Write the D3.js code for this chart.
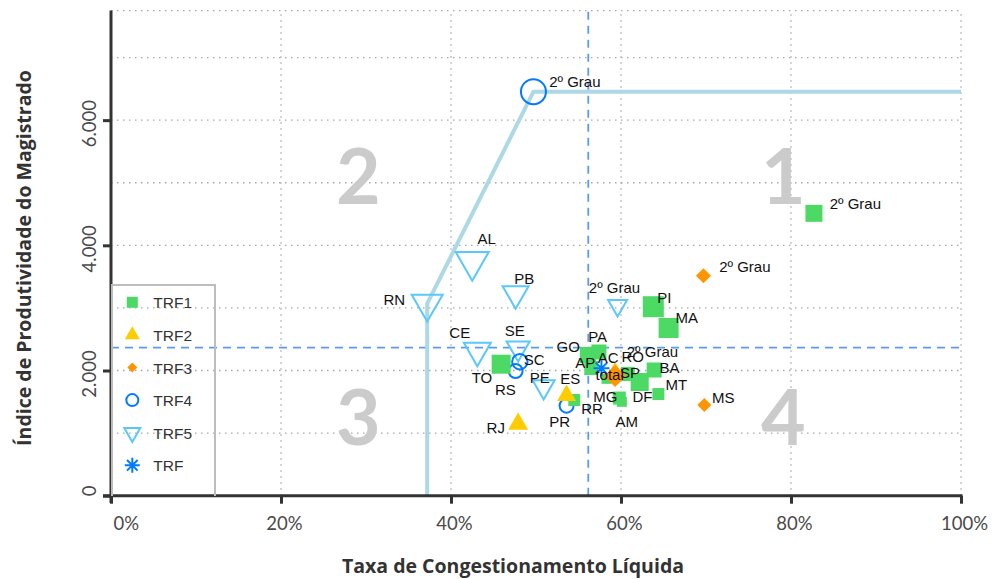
<!DOCTYPE html>
<html><head><meta charset="utf-8">
<script src="https://cdn.jsdelivr.net/npm/d3@7"></script>
<style>body{margin:0;background:#fff}svg{display:block}</style>
</head><body>
<svg id="c" width="992" height="579"></svg>
<script>
// ---- data (Taxa de Congestionamento Líquida %, IPM, marker weight) ----
const trf1Labels = ["2º Grau","PI","MA","GO","PA","AP","AC","RO","BA","DF","MT","MG","AM","RR","TO"];
const trf1X      = [82.7,63.8,65.6,56.1,57.4,56.5,58.3,60.8,63.9,62.2,64.4,59.8,60.1,54.5,45.9];
const trf1Y      = [4511,3019,2679,2248,2296,2040,1867,1944,2008,1816,1624,1560,1500,1529,2101];
const trf1W      = [85,105,100,80,75,70,50,70,75,90,60,65,50,60,95];

const trf2Labels = ["RJ","ES","2º Grau"];
const trf2X      = [47.9,53.6,59.3];
const trf2Y      = [1145,1601,2008];
const trf2W      = [100,95,70];

const trf3Labels = ["2º Grau","MS","SP"];
const trf3X      = [69.7,69.8,59.3];
const trf3Y      = [3514,1449,1912];
const trf3W      = [75,70,110];

const trf4Labels = ["2º Grau","SC","RS","PR"];
const trf4X      = [49.7,48.1,47.6,53.6];
const trf4Y      = [6454,2141,1992,1438];
const trf4W      = [125,77,70,70];

const trf5Labels = ["AL","PB","RN","CE","SE","PE","2º Grau"];
const trf5X      = [42.5,47.6,37.2,43.1,47.9,50.9,59.6];
const trf5Y      = [3740,3228,3067,2318,2356,1741,3037];
const trf5W      = [165,130,155,135,115,110,95];

const trfLabels = ["total"];
const trfX      = [57.7];
const trfY      = [2035];

const meanX = 56.15;   // vertical reference (dashed)
const meanY = 2367;    // horizontal reference (dashed)

const xTicks = [0,20,40,60,80,100];
const yTicks = [0,2000,4000,6000];
const yGrid  = [1000,2000,3000,4000,5000,6000,7000,7750];
const quadrants = [["1",79.1,4660],["2",29.1,4660],["3",29.1,810],["4",79.1,810]];
const legendNames = ["TRF1","TRF2","TRF3","TRF4","TRF5","TRF"];

// ---- layout / style ----
const COL = {TRF1:"#4cd964",TRF2:"#ffcc00",TRF3:"#ff9500",TRF4:"#007aff",TRF5:"#5ac8fa",TRF:"#007aff"};
const SHAPE = {TRF1:"square",TRF2:"triUp",TRF3:"diamond",TRF4:"circle",TRF5:"triDown",TRF:"star"};
// label offsets (px) relative to marker centre: [dx, dy, anchor]
const LAB = {
 "TRF1|2º Grau":[15.7,-4],"TRF1|PI":[4,-3.4],"TRF1|MA":[7,-4.7],"TRF1|GO":[-31.3,-2.7],
 "TRF1|PA":[-10.7,-10.3],"TRF1|AP":[-16,0.3],"TRF1|AC":[-8.7,-15.7],"TRF1|RO":[-6.3,-12.3],
 "TRF1|BA":[5.3,3.3],"TRF1|DF":[-7.3,19.7],"TRF1|MT":[7,-4],"TRF1|MG":[-26,3.5],
 "TRF1|AM":[-6.3,25.5],"TRF1|RR":[7,13.7],"TRF1|TO":[-29.5,19.1],
 "TRF2|RJ":[-31.6,9.3],"TRF2|ES":[-6.3,-11.5],"TRF2|2º Grau":[11.7,-13.3],
 "TRF3|2º Grau":[15.7,-4],"TRF3|MS":[7.7,-2],"TRF3|SP":[5,2.3],
 "TRF4|2º Grau":[15.7,-4.4],"TRF4|SC":[4,3.3],"TRF4|RS":[-20.7,24],"TRF4|PR":[-17.4,21.6],
 "TRF5|AL":[5.3,-17.3],"TRF5|PB":[-1.3,-9.3],"TRF5|RN":[-22,1.3,"end"],"TRF5|CE":[-28,-12.3],
 "TRF5|SE":[-13.3,-12.2],"TRF5|PE":[-14,-3.4],"TRF5|2º Grau":[-28.8,-12.3],
 "TRF|total":[-6,11.7]
};

const svg = d3.select("#c");
const x = d3.scaleLinear().domain([0,100]).range([111,961]);
const y = d3.scaleLinear().domain([0,7750]).range([495.7,10.6]);
const wpx = d3.scaleLinear().domain([0,100]).range([0,20]);

function pathFor(shape, d){
  const h = d*Math.sqrt(3)/2;
  switch(shape){
    case "square": return `M${-d/2},${-d/2}h${d}v${d}h${-d}Z`;
    case "triUp": return `M0,${-2*h/3}L${d/2},${h/3}L${-d/2},${h/3}Z`;
    case "triDown": return `M0,${2*h/3}L${d/2},${-h/3}L${-d/2},${-h/3}Z`;
    case "diamond": return `M0,${-d/2}L${d/2},0L0,${d/2}L${-d/2},0Z`;
    case "circle": return `M${d/2},0A${d/2},${d/2},0,1,1,${-d/2},0A${d/2},${d/2},0,1,1,${d/2},0Z`;
    case "star": { const r=d/2, s=r*Math.SQRT1_2;
      return `M${-r},0H${r}M0,${-r}V${r}M${-s},${-s}L${s},${s}M${-s},${s}L${s},${-s}`; }
  }
}
function styleMarker(sel, name){
  const sh = SHAPE[name];
  if (sh==="square"||sh==="triUp"||sh==="diamond") sel.attr("fill",COL[name]).attr("stroke","none");
  else sel.attr("fill","none").attr("stroke",COL[name]).attr("stroke-width",2);
}

// gridlines
const grid = svg.append("g").attr("stroke","#a8a8a8").attr("stroke-width",1.3).attr("stroke-dasharray","1.5,4.5");
grid.selectAll(".gh").data(yGrid).join("line").attr("x1",x(0)).attr("x2",x(100)).attr("y1",d=>y(d)).attr("y2",d=>y(d));
grid.selectAll(".gv").data(xTicks.slice(1)).join("line").attr("x1",d=>x(d)).attr("x2",d=>x(d)).attr("y1",y(0)).attr("y2",y(7750));

// quadrant numbers
svg.append("g").selectAll("text").data(quadrants).join("text")
  .attr("x",d=>x(d[1])).attr("y",d=>y(d[2])).attr("text-anchor","middle")
  .attr("font-family","Lato, 'Open Sans', sans-serif").attr("font-weight",700).attr("font-size",77)
  .attr("fill","#cbcbcb").text(d=>d[0]);

// dashed reference lines
const dash = svg.append("g").attr("stroke","#5a9af5").attr("stroke-width",1.8).attr("stroke-dasharray","8,6");
dash.append("line").attr("x1",x(meanX)).attr("x2",x(meanX)).attr("y1",y(0)).attr("y2",y(7750));
dash.append("line").attr("x1",x(0)).attr("x2",x(100)).attr("y1",y(meanY)).attr("y2",y(meanY));

// frontier line (RN -> TRF4 2º Grau -> right edge)
const rnI = trf5Labels.indexOf("RN"), g4 = trf4Labels.indexOf("2º Grau");
const frontier = [[trf5X[rnI],0],[trf5X[rnI],trf5Y[rnI]],[trf4X[g4],trf4Y[g4]],[100,trf4Y[g4]]];
svg.append("path").attr("d",d3.line().x(d=>x(d[0])).y(d=>y(d[1]))(frontier))
  .attr("fill","none").attr("stroke","#add8e6").attr("stroke-width",4).attr("stroke-linejoin","round");

// axes
const xAxis = svg.append("g").attr("transform",`translate(0,${y(0)})`)
  .call(d3.axisBottom(x).tickValues(xTicks).tickSize(8).tickPadding(13).tickFormat(d=>d+"%"));
const yAxis = svg.append("g").attr("transform",`translate(${x(0)},0)`)
  .call(d3.axisLeft(y).tickValues(yTicks).tickSize(8).tickFormat(d=>d3.format(",")(d).replace(/,/g,".")));
[xAxis,yAxis].forEach(a=>{
  a.select(".domain").remove();
  a.selectAll(".tick line").attr("stroke","#333").attr("stroke-width",3);
  a.selectAll(".tick text").attr("font-family","Lato, 'Open Sans', sans-serif").attr("font-weight",400)
   .attr("font-size",18.5).attr("fill","#4a4a4a");
});
xAxis.selectAll(".tick text").attr("dx",3);
xAxis.selectAll(".tick text").filter(d=>d===0).attr("text-anchor","start").attr("dx",2);
yAxis.selectAll(".tick text").attr("transform","rotate(-90)").attr("x",0).attr("y",-15)
  .attr("dx",-3).attr("dy",0).attr("text-anchor","middle");
yAxis.selectAll(".tick text").filter(d=>d===0).attr("text-anchor","start").attr("dx",0);
svg.append("line").attr("x1",103).attr("x2",962.5).attr("y1",y(0)).attr("y2",y(0)).attr("stroke","#333").attr("stroke-width",3);
svg.append("line").attr("x1",x(0)).attr("x2",x(0)).attr("y1",y(7750)).attr("y2",503).attr("stroke","#333").attr("stroke-width",3);

// axis titles
svg.append("text").attr("x",513).attr("y",573).attr("text-anchor","middle")
  .attr("font-family","'Open Sans', Lato, sans-serif").attr("font-weight",700).attr("font-size",19.5).attr("fill","#333")
  .text("Taxa de Congestionamento Líquida");
svg.append("text").attr("transform","translate(31,258) rotate(-90)").attr("text-anchor","middle")
  .attr("font-family","'Open Sans', Lato, sans-serif").attr("font-weight",700).attr("font-size",19.5).attr("fill","#333")
  .text("Índice de Produtividade do Magistrado");

// legend
const lg = svg.append("g");
lg.append("path").attr("d",`M112,496V285H215V496`).attr("fill","none").attr("stroke","#bdbdbd").attr("stroke-width",2);
const lgSize = {TRF1:11,TRF2:15,TRF3:10,TRF4:12,TRF5:16,TRF:15};
legendNames.forEach((n,i)=>{
  const cy = 302.3 + i*32.6;
  const m = lg.append("path").attr("transform",`translate(132.3,${cy})`).attr("d",pathFor(SHAPE[n],lgSize[n]));
  styleMarker(m,n);
  lg.append("text").attr("x",153.3).attr("y",cy+6).attr("font-family","'Liberation Sans', Arial, sans-serif")
    .attr("font-size",15.5).attr("fill","#333").text(n);
});

// points
const series = [
  ["TRF5",trf5Labels,trf5X,trf5Y,trf5W],
  ["TRF4",trf4Labels,trf4X,trf4Y,trf4W],
  ["TRF1",trf1Labels,trf1X,trf1Y,trf1W],
  ["TRF2",trf2Labels,trf2X,trf2Y,trf2W],
  ["TRF3",trf3Labels,trf3X,trf3Y,trf3W],
  ["TRF",trfLabels,trfX,trfY,[80]]
];
const pts = svg.append("g"), labs = svg.append("g");
series.forEach(([name,L,X,Y,W])=>{
  const data = L.map((l,i)=>({name,l,x:X[i],y:Y[i],w:W[i]}));
  const m = pts.selectAll(null).data(data).join("path")
    .attr("transform",d=>`translate(${x(d.x)},${y(d.y)})`)
    .attr("d",d=>pathFor(SHAPE[name],wpx(d.w)));
  styleMarker(m,name);
  labs.selectAll(null).data(data).join("text")
    .attr("x",d=>x(d.x)+LAB[name+"|"+d.l][0]).attr("y",d=>y(d.y)+LAB[name+"|"+d.l][1])
    .attr("text-anchor",d=>LAB[name+"|"+d.l][2]||"start")
    .attr("font-family","'Liberation Sans', Arial, sans-serif").attr("font-size",15).attr("fill","#111")
    .text(d=>d.l);
});
</script>
</body></html>
